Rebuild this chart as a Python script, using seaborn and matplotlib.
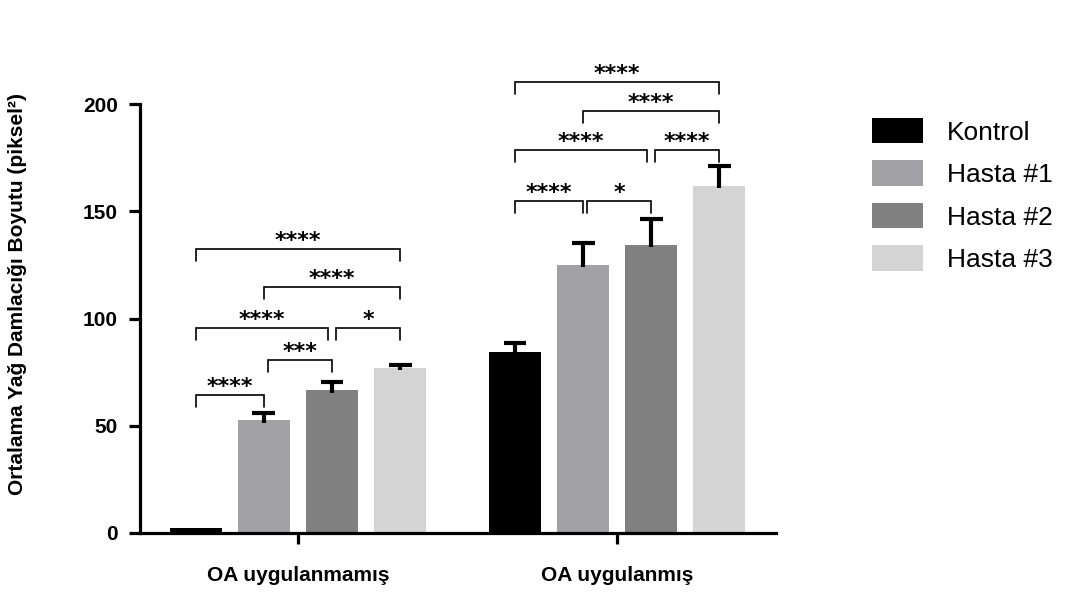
import numpy as np
import pandas as pd
import matplotlib
matplotlib.use('Agg')
import matplotlib.pyplot as plt
import seaborn as sns

# Data
gruplar = ['OA uygulanmamış', 'OA uygulanmış']
kosullar = ['Kontrol', 'Hasta #1', 'Hasta #2', 'Hasta #3']
ortalama_uygulanmamis = [2.5, 52.5, 66.5, 77.0]
ortalama_uygulanmis = [84.5, 125.0, 134.5, 162.0]
hata_uygulanmamis = [0.0, 3.3, 3.8, 1.5]
hata_uygulanmis = [4.2, 10.5, 12.0, 9.0]
renkler = ['#000000', '#a2a1a5', '#808080', '#d4d4d4']

# significance brackets: (group, bar i, bar j, height, label)
anlamlilik = [
    (0, 0, 1, 64.3, '****'),
    (0, 1, 2, 80.7, '***'),
    (0, 0, 2, 95.6, '****'),
    (0, 2, 3, 95.6, '*'),
    (0, 1, 3, 114.7, '****'),
    (0, 0, 3, 132.4, '****'),
    (1, 0, 1, 154.8, '****'),
    (1, 1, 2, 154.8, '*'),
    (1, 0, 2, 178.6, '****'),
    (1, 2, 3, 178.6, '****'),
    (1, 1, 3, 196.7, '****'),
    (1, 0, 3, 210.3, '****'),
]

df = pd.DataFrame({
    'grup': np.repeat(gruplar, len(kosullar)),
    'kosul': kosullar * len(gruplar),
    'deger': ortalama_uygulanmamis + ortalama_uygulanmis,
    'hata': hata_uygulanmamis + hata_uygulanmis,
})

sns.set_style('ticks', {'text.color': 'black', 'axes.labelcolor': 'black',
                        'xtick.color': 'black', 'ytick.color': 'black',
                        'axes.edgecolor': 'black'})
plt.rcParams['font.family'] = ['Liberation Sans', 'DejaVu Sans']

fig = plt.figure(figsize=(10.87, 6.06), dpi=100)
ax = fig.add_axes([140 / 1087, 1 - 533 / 606, (776 - 140) / 1087, (533 - 40) / 606])

sns.barplot(data=df, x='grup', y='deger', hue='kosul', order=gruplar,
            hue_order=kosullar, palette=renkler, width=0.853, gap=0.235,
            errorbar=None, linewidth=0, saturation=1, ax=ax)

# bar centers from the drawn bars
merkez = np.zeros((len(gruplar), len(kosullar)))
for k, cont in enumerate(ax.containers):
    for g, bar in enumerate(cont.patches):
        merkez[g, k] = bar.get_x() + bar.get_width() / 2

# one-sided error bars
for g in range(len(gruplar)):
    sub = df[df['grup'] == gruplar[g]]
    for k in range(len(kosullar)):
        m = sub['deger'].iloc[k]
        e = sub['hata'].iloc[k]
        if e <= 0:
            continue
        x = merkez[g, k]
        ax.vlines(x, m - 1, m + e, color='black', lw=3.0, zorder=3)
        ax.hlines(m + e, x - 0.036, x + 0.036, color='black', lw=3.0, zorder=3)

# significance brackets
bacak = 5.6
for g, i, j, h, etiket in anlamlilik:
    x1 = merkez[g, i]
    x2 = merkez[g, j]
    # small offset where two brackets share a bar
    if j - i == 1 and i > 0:
        x1 += 0.012
    if j == 2 and i == 0:
        x2 -= 0.012
    ax.plot([x1, x1, x2, x2], [h - bacak, h, h, h - bacak], color='black', lw=1.2,
            solid_joinstyle='miter', zorder=3)
    ax.text((x1 + x2) / 2, h - 0.8, etiket, ha='center', va='bottom', fontsize=16,
            fontweight='bold', family=['DejaVu Sans'], color='black')

ax.set_xlim(-0.495, 1.498)
ax.set_ylim(0, 230)
ax.set_yticks([0, 50, 100, 150, 200])
ax.spines['left'].set_bounds(0, 200)
ax.spines['left'].set_linewidth(2.3)
ax.spines['bottom'].set_linewidth(2.3)
sns.despine(ax=ax)
ax.tick_params(axis='both', width=2.3, length=8, labelsize=15, colors='black')
ax.tick_params(axis='x', pad=16)
ax.tick_params(axis='y', pad=8)
for lab in ax.get_yticklabels() + ax.get_xticklabels():
    lab.set_fontweight('bold')
ax.set_xlabel('')
ax.set_ylabel('Ortalama Yağ Damlacığı Boyutu (piksel²)', fontsize=15,
              fontweight='bold', color='black')
ax.yaxis.set_label_coords((27 - 140) / 636, (533 - 294) / 493)

handles, labels = ax.get_legend_handles_labels()
ax.legend(handles, labels, loc='upper left', bbox_to_anchor=(872 / 1087, 1 - 118 / 606),
          bbox_transform=fig.transFigure, frameon=False, fontsize=19,
          handlelength=1.95, handleheight=1.1, labelspacing=0.6,
          handletextpad=0.9, borderpad=0, borderaxespad=0, labelcolor='black')

fig.savefig('out.png', dpi=100)
